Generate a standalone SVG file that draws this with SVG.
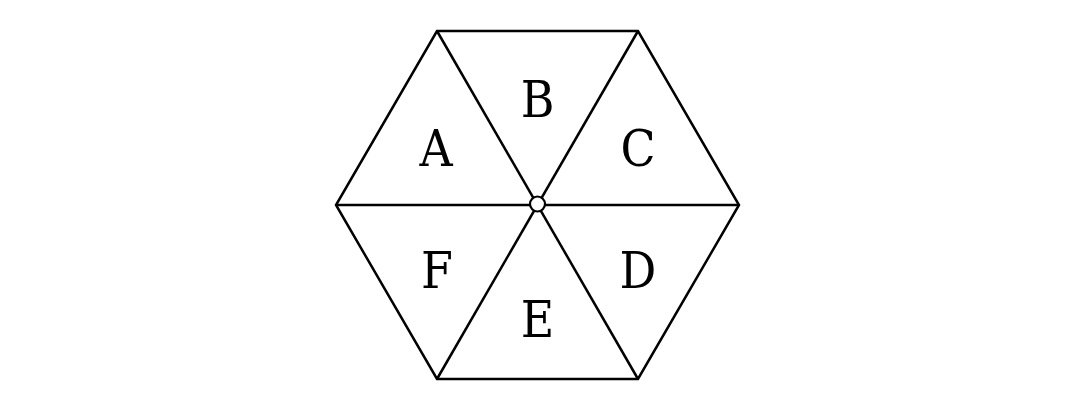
<svg xmlns="http://www.w3.org/2000/svg" width="1078" height="405" viewBox="0 0 1078 405">
<style>
.ln{stroke:#000;stroke-width:2.5;fill:none;stroke-linejoin:miter}
.lb{font-family:"DejaVu Serif Condensed","DejaVu Serif","Liberation Serif",serif;font-size:51px;fill:#000;text-anchor:middle}
</style>
<rect width="1078" height="405" fill="#fff"/>
<g id="connectors">
<polygon class="ln" points="437,31 638,31 739,205 638,379 437,379 336,205"/>
<line class="ln" x1="336" y1="205" x2="739" y2="205"/>
<line class="ln" x1="437" y1="31" x2="638" y2="379"/>
<line class="ln" x1="638" y1="31" x2="437" y2="379"/>
</g>
<g id="center"><circle cx="537.5" cy="204" r="7.5" fill="#fff" stroke="#000" stroke-width="2.2"/></g>
<g id="A"><text class="lb" x="436" y="166">A</text></g>
<g id="B"><text class="lb" x="537.5" y="117">B</text></g>
<g id="C"><text class="lb" x="638" y="166">C</text></g>
<g id="D"><text class="lb" x="638" y="288">D</text></g>
<g id="E"><text class="lb" x="537.5" y="337">E</text></g>
<g id="F"><text class="lb" x="437" y="288">F</text></g>
</svg>
